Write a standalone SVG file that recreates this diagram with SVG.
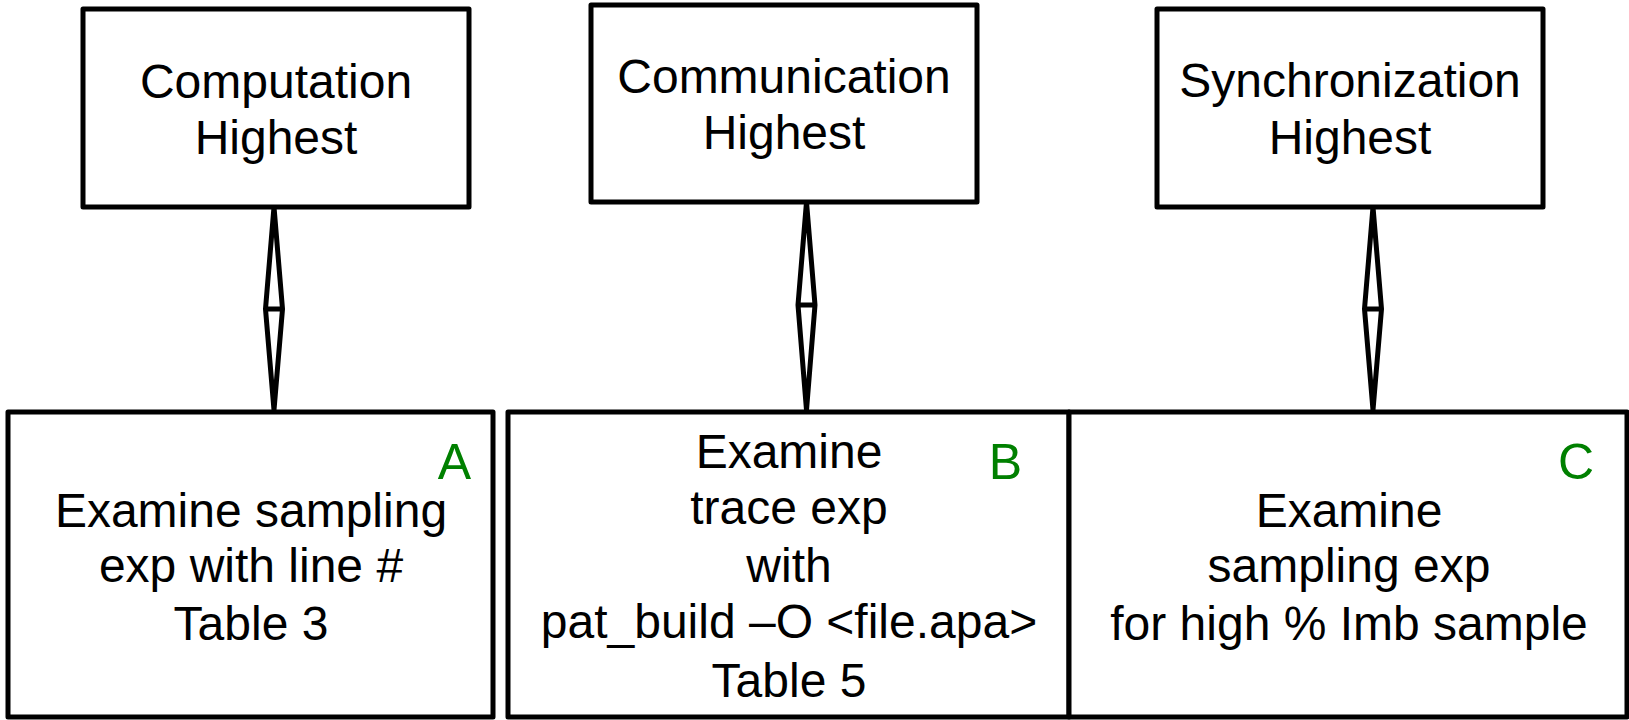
<svg xmlns="http://www.w3.org/2000/svg" width="1629" height="720" viewBox="0 0 1629 720">
<style>
.box{fill:#fff;stroke:#000;stroke-width:5;stroke-linejoin:round}
.t{font-family:"Liberation Sans",Arial,sans-serif;font-size:48px;fill:#000;text-anchor:middle}
.lbl{font-family:"Liberation Sans",Arial,sans-serif;font-size:50px;fill:#008000;text-anchor:end}
.con{fill:#fff;stroke:#000;stroke-width:5}
</style>
<rect width="1629" height="720" fill="#fff"/>
<g id="connectors">
<path class="con" d="M274,207 L282.5,309 L274,410 L265.5,309 Z M265.5,309 H282.5"/>
<path class="con" d="M806.5,202 L815,305 L806.5,410 L798,305 Z M798,305 H815"/>
<path class="con" d="M1373,207 L1381.5,309 L1373,410 L1364.5,309 Z M1364.5,309 H1381.5"/>
</g>
<g id="computation">
<rect class="box" x="83" y="9" width="386" height="198"/>
<text class="t" x="276" y="98">Computation</text>
<text class="t" x="276" y="154">Highest</text>
</g>
<g id="communication">
<rect class="box" x="591" y="5" width="386" height="197"/>
<text class="t" x="784" y="93">Communication</text>
<text class="t" x="784" y="149">Highest</text>
</g>
<g id="synchronization">
<rect class="box" x="1157" y="9" width="386" height="198"/>
<text class="t" x="1350" y="97">Synchronization</text>
<text class="t" x="1350" y="154">Highest</text>
</g>
<g id="nodeA">
<rect class="box" x="8" y="412" width="485" height="305"/>
<text class="lbl" x="471" y="479">A</text>
<text class="t" x="251" y="527">Examine sampling</text>
<text class="t" x="251" y="582">exp with line #</text>
<text class="t" x="251" y="640">Table 3</text>
</g>
<g id="nodeB">
<rect class="box" x="508" y="412" width="561" height="305"/>
<text class="lbl" x="1022" y="479">B</text>
<text class="t" x="789" y="468">Examine</text>
<text class="t" x="789" y="524">trace exp</text>
<text class="t" x="789" y="582">with</text>
<text class="t" x="789" y="638">pat_build –O &lt;file.apa&gt;</text>
<text class="t" x="789" y="697">Table 5</text>
</g>
<g id="nodeC">
<rect class="box" x="1069" y="412" width="558" height="305"/>
<text class="lbl" x="1594" y="479">C</text>
<text class="t" x="1349" y="527">Examine</text>
<text class="t" x="1349" y="582">sampling exp</text>
<text class="t" x="1349" y="640">for high % Imb sample</text>
</g>
</svg>
